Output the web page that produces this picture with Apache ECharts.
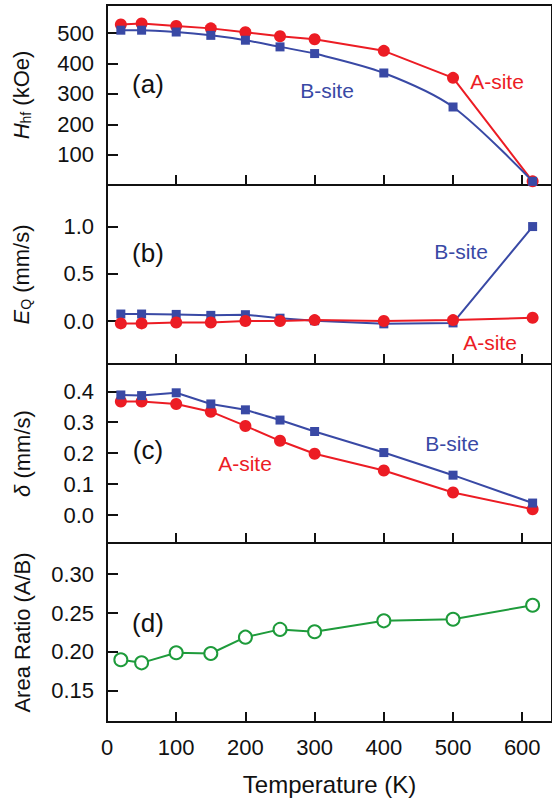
<!DOCTYPE html>
<html>
<head>
<meta charset="utf-8">
<script src="https://cdn.jsdelivr.net/npm/echarts@6/dist/echarts.min.js"></script>
<style>
html, body { margin: 0; padding: 0; background: #fff; }
#main { width: 552px; height: 800px; }
</style>
</head>
<body>
<div id="main"></div>
<script>
// temperature (K)
var temps = [20, 50, 100, 150, 200, 250, 300, 400, 500, 615];
// (a) hyperfine field (kOe)
var hfA = [529, 532, 524, 516, 503, 490, 480, 442, 353, 12];
var hfB = [510, 510, 504, 493, 477, 455, 433, 369, 257, 12];
// (b) quadrupole splitting (mm/s)
var eqA = [-0.025, -0.025, -0.015, -0.015, 0, 0, 0.01, 0, 0.01, 0.035];
var eqB = [0.074, 0.074, 0.07, 0.06, 0.067, 0.03, 0.003, -0.03, -0.02, 1.0];
// (c) isomer shift (mm/s)
var isoA = [0.367, 0.367, 0.359, 0.334, 0.288, 0.24, 0.198, 0.144, 0.073, 0.019];
var isoB = [0.388, 0.386, 0.395, 0.359, 0.34, 0.307, 0.27, 0.202, 0.129, 0.039];
// (d) area ratio A/B
var ratio = [0.190, 0.186, 0.199, 0.198, 0.219, 0.229, 0.226, 0.240, 0.242, 0.260];

var xTicks = [0, 100, 200, 300, 400, 500, 600];
var hfTicks = [100, 200, 300, 400, 500];
var eqTicks = [0, 0.5, 1.0];
var isoTicks = [0, 0.1, 0.2, 0.3, 0.4];
var ratioTicks = [0.15, 0.20, 0.25, 0.30];

var red = '#ec1c24';
var blue = '#3949a5';
var green = '#1e9b3b';
var font = 'Liberation Sans, Arial, sans-serif';

function pairs(ys) {
    return temps.map(function (t, i) { return [t, ys[i]]; });
}

var grids = [
    {top: 5, height: 180},
    {top: 185, height: 179},
    {top: 364, height: 179},
    {top: 543, height: 179}
];

function xAxisFor(idx, last) {
    return {
        gridIndex: idx,
        type: 'value',
        min: 0,
        max: 643,
        axisLine: {show: true, onZero: false, lineStyle: {color: '#111', width: 2}},
        axisTick: {show: true, inside: true, length: 10, lineStyle: {color: '#111', width: 2}, customValues: xTicks},
        axisLabel: {show: last, margin: 14, fontSize: 22, color: '#111', fontFamily: font, customValues: xTicks},
        splitLine: {show: false},
        name: last ? 'Temperature (K)' : '',
        nameLocation: 'middle',
        nameGap: 50,
        nameTextStyle: {fontSize: 24, color: '#111', fontFamily: font}
    };
}

function yAxisFor(idx, min, max, ticks, digits, name, rich) {
    return {
        gridIndex: idx,
        type: 'value',
        min: min,
        max: max,
        axisLine: {show: true, onZero: false, lineStyle: {color: '#111', width: 2}},
        axisTick: {show: true, inside: true, length: 11, lineStyle: {color: '#111', width: 2}, customValues: ticks},
        axisLabel: {
            margin: 13, fontSize: 22, color: '#111', fontFamily: font, customValues: ticks,
            formatter: function (v) { return v.toFixed(digits); }
        },
        splitLine: {show: false},
        name: name,
        nameLocation: 'middle',
        nameGap: 74,
        nameTextStyle: {fontSize: 22, color: '#111', fontFamily: font, rich: rich}
    };
}

var nameRich = {
    i: {fontSize: 22, fontStyle: 'italic', color: '#111', fontFamily: font},
    sub: {fontSize: 14, color: '#111', fontFamily: font, verticalAlign: 'bottom', padding: [10, 0, 0, 0]},
    t: {fontSize: 22, color: '#111', fontFamily: font}
};

function line(name, xi, ys, color, symbol, size, smooth) {
    return {
        name: name,
        type: 'line',
        xAxisIndex: xi,
        yAxisIndex: xi,
        data: pairs(ys),
        symbol: symbol,
        symbolSize: size,
        smooth: smooth || false,
        lineStyle: {color: color, width: 2},
        itemStyle: {color: color}
    };
}

function label(text, x, y, color, size) {
    return {
        type: 'text',
        x: x,
        y: y,
        style: {
            text: text,
            fill: color,
            font: (size || 21) + 'px ' + font,
            align: 'center',
            verticalAlign: 'middle'
        }
    };
}

var option = {
    backgroundColor: '#fff',
    animation: false,
    grid: grids.map(function (g) {
        return {left: 107, right: -3, top: g.top, height: g.height, show: true,
            borderColor: '#111', borderWidth: 2};
    }),
    xAxis: [xAxisFor(0, false), xAxisFor(1, false), xAxisFor(2, false), xAxisFor(3, true)],
    yAxis: [
        yAxisFor(0, 0, 593, hfTicks, 0, '{i|H}{sub|hf}{t| (kOe)}', nameRich),
        yAxisFor(1, -0.455, 1.44, eqTicks, 1, '{i|E}{sub|Q}{t| (mm/s)}', nameRich),
        yAxisFor(2, -0.09, 0.488, isoTicks, 1, '{i|δ}{t| (mm/s)}', nameRich),
        yAxisFor(3, 0.11, 0.34, ratioTicks, 2, 'Area Ratio (A/B)', nameRich)
    ],
    series: [
        line('A-site', 0, hfA, red, 'circle', 12),
        line('B-site', 0, hfB, blue, 'rect', 9, 0.3),
        line('B-site', 1, eqB, blue, 'rect', 9),
        line('A-site', 1, eqA, red, 'circle', 12),
        line('A-site', 2, isoA, red, 'circle', 12),
        line('B-site', 2, isoB, blue, 'rect', 9),
        {
            name: 'Area Ratio',
            type: 'line',
            xAxisIndex: 3,
            yAxisIndex: 3,
            data: pairs(ratio),
            symbol: 'circle',
            symbolSize: 13,
            showAllSymbol: true,
            lineStyle: {color: green, width: 2},
            itemStyle: {color: '#fff', borderColor: green, borderWidth: 2}
        }
    ],
    graphic: [
        label('(a)', 148, 84, '#111', 26),
        label('(b)', 148, 253, '#111', 26),
        label('(c)', 148, 450, '#111', 26),
        label('(d)', 148, 623, '#111', 26),
        label('B-site', 327, 90, blue),
        label('A-site', 497, 81, red),
        label('B-site', 461, 251, blue),
        label('A-site', 490, 342, red),
        label('A-site', 245, 463, red),
        label('B-site', 452, 443, blue)
    ]
};

var myChart = echarts.init(document.getElementById('main'), null, {renderer: 'svg'});
myChart.setOption(option);
</script>
</body>
</html>
